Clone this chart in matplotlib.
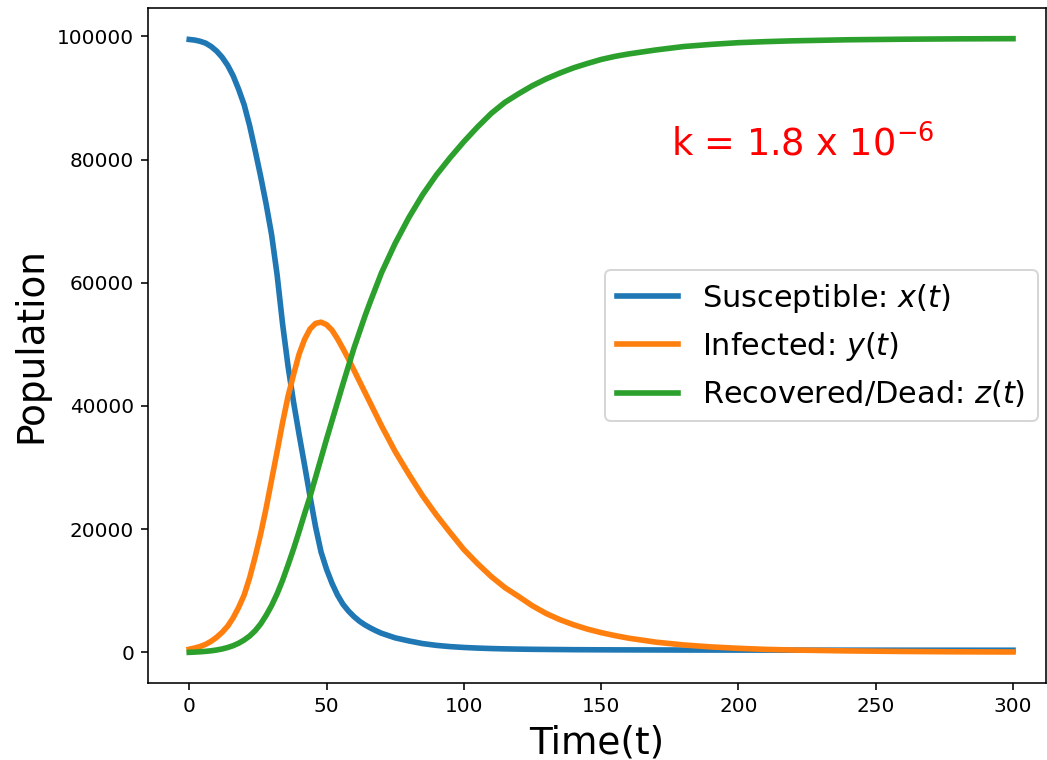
import matplotlib
matplotlib.use('Agg')
import matplotlib.pyplot as plt

# values
t = [0, 2, 4, 6, 8, 10, 12, 14, 16, 18, 20, 22, 24, 26, 28, 30, 32, 34, 36, 38,
     40, 42, 44, 46, 48, 50, 52, 54, 56, 58, 60, 62, 64, 66, 68, 70,
     75, 80, 85, 90, 95, 100, 105, 110, 115, 120, 125, 130, 135, 140, 145, 150, 155,
     160, 170, 180, 190, 200, 210, 220, 240, 260, 280, 300]

susceptible = [99500, 99400, 99200, 98900, 98350, 97600, 96600, 95300, 93600, 91400,
               88900, 85500, 81500, 77300, 72800, 67800, 61300, 53300, 46400, 40600,
               35400, 30400, 25300, 20400, 16300, 13500, 11200, 9300, 7800, 6700,
               5800, 5050, 4450, 3950, 3500, 3100,
               2350, 1850, 1420, 1130, 930, 790, 690, 615, 560, 520, 490, 470, 450, 430, 420, 410, 400,
               395, 385, 375, 368, 362, 358, 355, 350, 346, 343, 340]

infected = [500, 700, 950, 1300, 1800, 2450, 3250, 4250, 5600, 7300,
            9300, 12100, 15500, 19200, 23400, 28000, 32600, 37300, 41600, 45100,
            48400, 50800, 52500, 53400, 53600, 53200, 52300, 50900, 49300, 47600,
            45800, 44000, 42200, 40400, 38600, 36800,
            32600, 28900, 25400, 22300, 19450, 16700, 14400, 12300, 10500, 9050, 7550, 6300, 5300, 4470, 3770, 3200, 2720,
            2300, 1650, 1200, 880, 650, 480, 370, 230, 140, 85, 55]

recovered = [0, 40, 90, 160, 250, 380, 550, 780, 1080, 1480,
             2000, 2650, 3500, 4600, 6000, 7600, 9500, 11700, 14200, 16800,
             19600, 22500, 25300, 28400, 31500, 34600, 37600, 40600, 43600, 46500,
             49400, 52000, 54600, 57000, 59300, 61600,
             66400, 70600, 74300, 77500, 80300, 82900, 85300, 87500, 89300, 90700, 92000, 93100, 94050, 94900, 95600, 96250, 96750,
             97150, 97800, 98350, 98700, 98980, 99150, 99280, 99450, 99540, 99600, 99630]

series = [
    ('Susceptible: $x(t)$', susceptible),
    ('Infected: $y(t)$', infected),
    ('Recovered/Dead: $z(t)$', recovered),
]

fig = plt.figure(figsize=(1047 / 144, 760 / 144), dpi=144)
ax = fig.add_axes([0.1414, 0.1013, 0.8576, 0.8882])

for label, values in series:
    ax.plot(t, values, linewidth=2.8, label=label)

ax.set_xlim(-15, 312)
ax.set_xlabel('Time(t)', fontsize=18.7)
ax.set_ylabel('Population', fontsize=18.7)
ax.legend(loc='center right', fontsize=15.2, borderaxespad=0.27)
ax.text(175.5, 80500, 'k = 1.8 x $10^{-6}$', color='red', fontsize=18.4)

fig.savefig('out.png', dpi=144)
